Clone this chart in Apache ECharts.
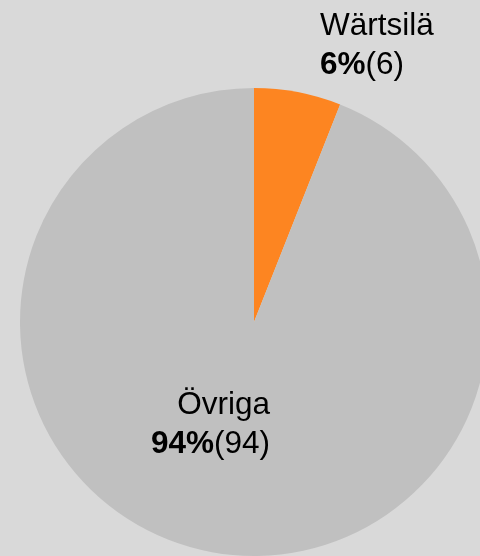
<!DOCTYPE html>
<html>
<head>
<meta charset="utf-8">
<script src="https://cdn.jsdelivr.net/npm/echarts@6/dist/echarts.min.js"></script>
<style>
  html, body { margin: 0; padding: 0; background: #d9d9d9; }
  #chart { width: 480px; height: 556px; }
</style>
</head>
<body>
<div id="chart"></div>
<script>
// data
const names = ['Wärtsilä', 'Övriga'];
const values = [6, 94];
const colors = ['#fd8521', '#c0c0c0'];

// label positions (left edge / right edge and vertical middle)
const labelSpots = [
    { x: 320, y: 46, align: 'left' },
    { x: 270, y: 425, align: 'right' }
];

const total = values.reduce((a, b) => a + b, 0);
const fontFam = '"Liberation Sans", Arial, sans-serif';

const chart = echarts.init(document.getElementById('chart'));

const option = {
    backgroundColor: '#d9d9d9',
    animation: false,
    series: [
        {
            type: 'pie',
            center: [254, 322],
            radius: 234,
            startAngle: 90,
            clockwise: true,
            silent: true,
            itemStyle: { borderWidth: 0 },
            label: {
                show: true,
                position: 'inside',
                fontFamily: fontFam,
                color: '#000',
                formatter: (p) => {
                    const pct = Math.round(p.value / total * 100);
                    return '{n|' + p.name + '}\n{b|' + pct + '%}{v|(' + p.value + ')}';
                },
                rich: {
                    n: { fontSize: 31.5, lineHeight: 39, color: '#000', fontFamily: fontFam },
                    b: { fontSize: 31.5, lineHeight: 39, fontWeight: 'bold', color: '#000', fontFamily: fontFam },
                    v: { fontSize: 31.5, lineHeight: 39, color: '#000', fontFamily: fontFam }
                }
            },
            labelLine: { show: false },
            labelLayout: (params) => {
                const s = labelSpots[params.dataIndex];
                return { x: s.x, y: s.y, align: s.align, verticalAlign: 'middle' };
            },
            data: names.map((n, i) => ({
                name: n,
                value: values[i],
                itemStyle: { color: colors[i] }
            }))
        }
    ]
};

chart.setOption(option);
</script>
</body>
</html>
